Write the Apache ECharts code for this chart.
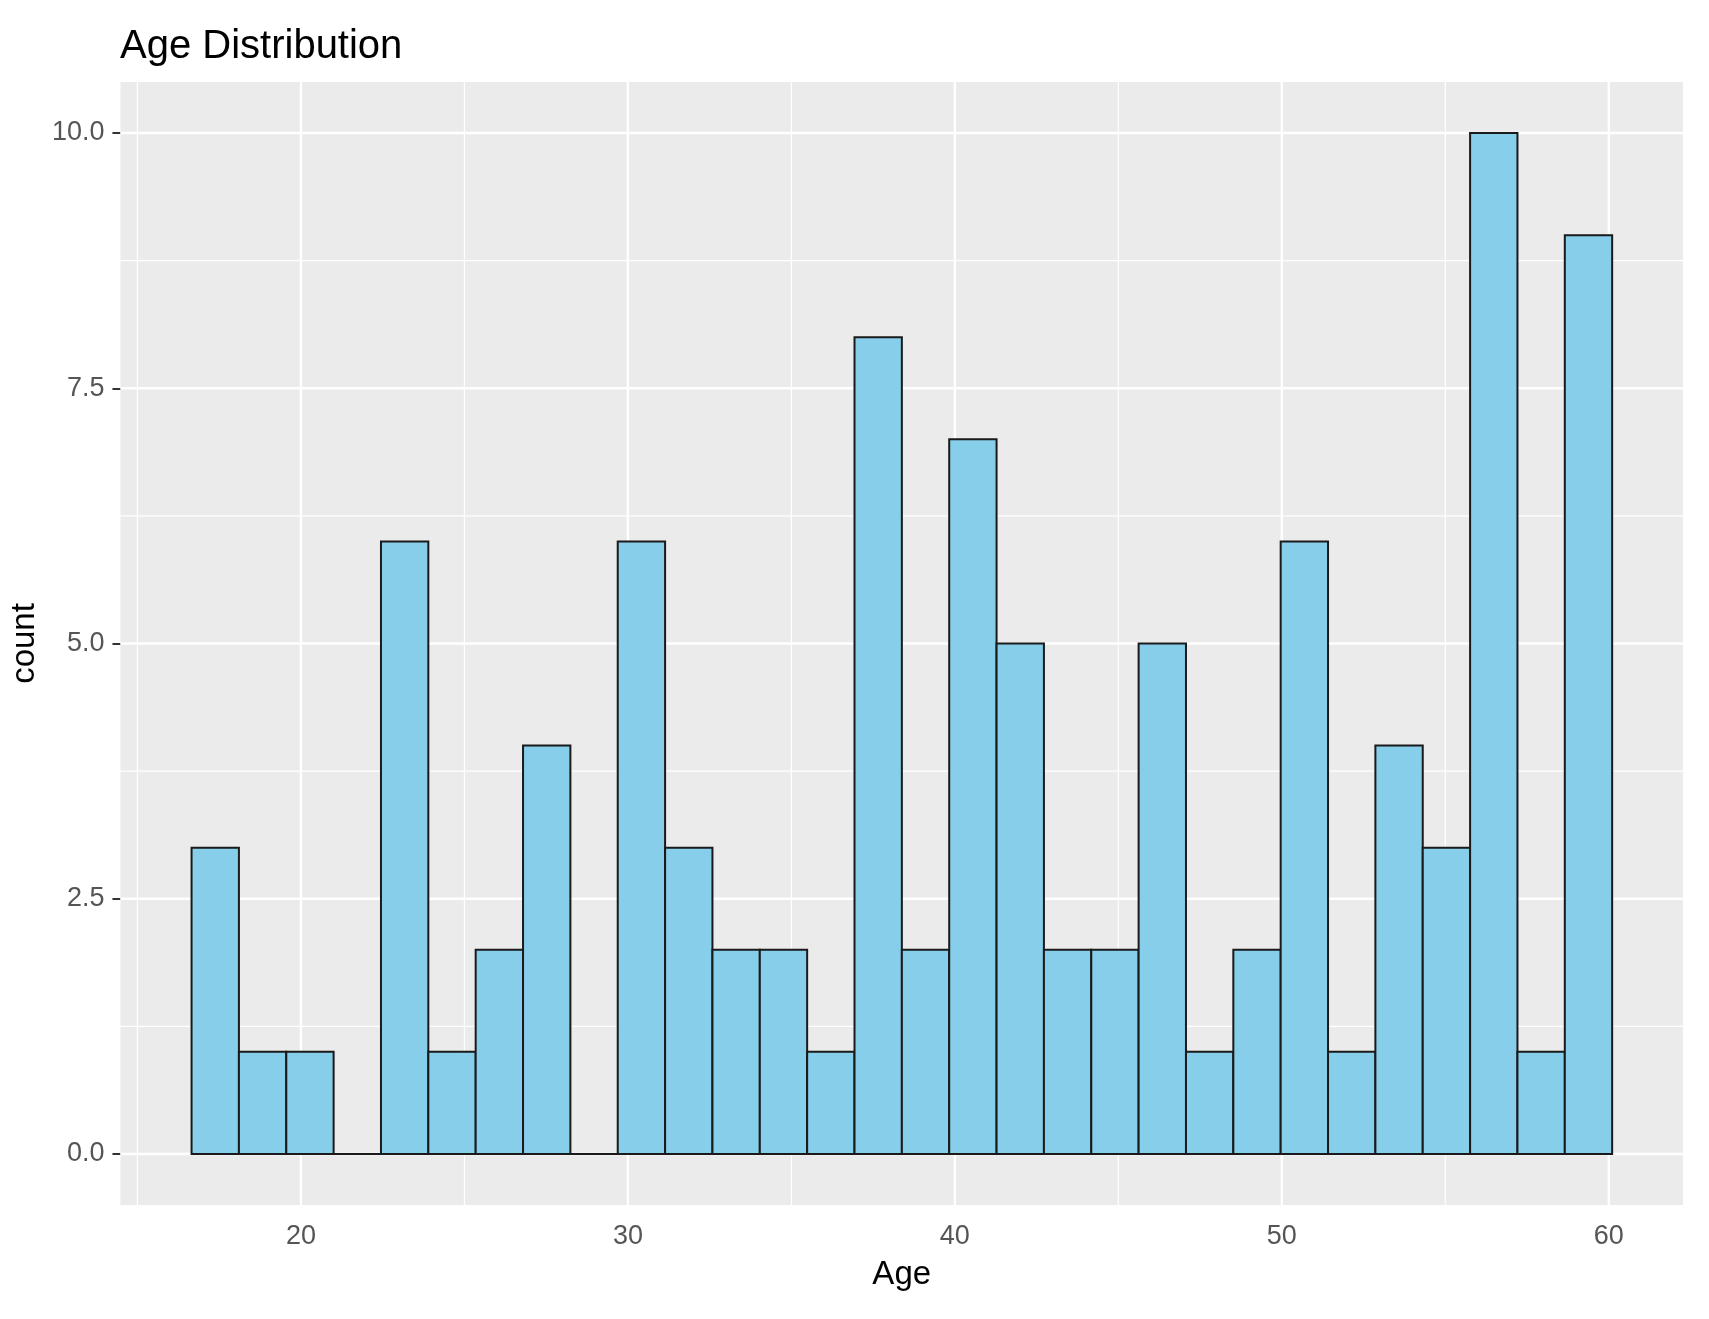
<!DOCTYPE html>
<html>
<head>
<meta charset="utf-8">
<script src="https://cdn.jsdelivr.net/npm/echarts@6/dist/echarts.min.js"></script>
<style>
  html, body { margin: 0; padding: 0; background: #ffffff; }
  #chart { width: 1709px; height: 1319px; }
</style>
</head>
<body>
<div id="chart"></div>
<script>
// Histogram of Age: 30 bins (ages 18..60, binwidth 42/29)
const binStart = 16.655;
const binWidth = 42 / 29;
const counts = [3, 1, 1, 0, 6, 1, 2, 4, 0, 6, 3, 2, 2, 1, 8, 2, 7, 5, 2, 2, 5, 1, 2, 6, 1, 4, 3, 10, 1, 9];

// Axis breaks (ggplot style major/minor grid)
const xMajor = [20, 30, 40, 50, 60];
const xMinor = [15, 25, 35, 45, 55];
const yMajor = [0, 2.5, 5, 7.5, 10];
const yMinor = [1.25, 3.75, 6.25, 8.75];

const titleText = 'Age Distribution';
const xName = 'Age';
const yName = 'count';

const bins = counts.map((c, i) => [binStart + i * binWidth, binStart + (i + 1) * binWidth, c]);

const FONT = '"Liberation Sans", Arial, Helvetica, sans-serif';
const chart = echarts.init(document.getElementById('chart'), null, { renderer: 'canvas' });

// grid line records: [orientation (0 = vertical at x, 1 = horizontal at y), value, isMajor]
const gridData = [];
xMinor.forEach(v => gridData.push([0, v, 0]));
yMinor.forEach(v => gridData.push([1, v, 0]));
xMajor.forEach(v => gridData.push([0, v, 1]));
yMajor.forEach(v => gridData.push([1, v, 1]));

chart.setOption({
  animation: false,
  backgroundColor: '#ffffff',
  title: {
    text: titleText,
    left: 115,
    top: 22,
    textStyle: { fontFamily: FONT, fontSize: 40, fontWeight: 'normal', color: '#000000' }
  },
  grid: {
    left: 116, right: 26, top: 82, bottom: 114,
    show: true, backgroundColor: '#EBEBEB', borderWidth: 0
  },
  xAxis: {
    type: 'value',
    min: 14.48, max: 62.27,
    name: xName,
    nameLocation: 'middle',
    nameGap: 53,
    nameTextStyle: { fontFamily: FONT, fontSize: 33, color: '#000000' },
    axisLine: { show: false },
    axisTick: { show: true, customValues: xMajor, length: 8, lineStyle: { color: '#333333', width: 2 } },
    axisLabel: { customValues: xMajor, margin: 18, fontFamily: FONT, fontSize: 27, color: '#555555' },
    splitLine: { show: false }
  },
  yAxis: {
    type: 'value',
    min: -0.5, max: 10.5,
    name: yName,
    nameLocation: 'middle',
    nameGap: 72,
    nameRotate: 90,
    nameTextStyle: { fontFamily: FONT, fontSize: 33, color: '#000000' },
    axisLine: { show: false },
    axisTick: { show: true, customValues: yMajor, length: 8, lineStyle: { color: '#333333', width: 2 } },
    axisLabel: {
      customValues: yMajor, margin: 16, fontFamily: FONT, fontSize: 27, color: '#555555',
      formatter: v => Number(v).toFixed(1)
    },
    splitLine: { show: false }
  },
  series: [
    {
      type: 'custom',
      z: 1,
      silent: true,
      data: gridData,
      encode: { x: 1, y: 1 },
      renderItem: function (params, api) {
        const cs = params.coordSys;
        const orient = api.value(0);
        const v = api.value(1);
        const w = api.value(2) ? 2.4 : 1.2;
        let shape;
        if (orient === 0) {
          const x = api.coord([v, 0])[0];
          shape = { x1: x, y1: cs.y, x2: x, y2: cs.y + cs.height };
        } else {
          const y = api.coord([cs ? 20 : 0, v])[1];
          shape = { x1: cs.x, y1: y, x2: cs.x + cs.width, y2: y };
        }
        return { type: 'line', shape: shape, style: { stroke: '#ffffff', lineWidth: w } };
      }
    },
    {
      type: 'custom',
      z: 3,
      data: bins,
      encode: { x: [0, 1], y: 2 },
      renderItem: function (params, api) {
        const p0 = api.coord([api.value(0), 0]);
        const p1 = api.coord([api.value(1), api.value(2)]);
        const h = p0[1] - p1[1];
        if (h < 0.5) {
          return {
            type: 'line',
            shape: { x1: p0[0], y1: p0[1], x2: p1[0], y2: p0[1] },
            style: { stroke: '#1a1a1a', lineWidth: 2 }
          };
        }
        return {
          type: 'rect',
          shape: { x: p0[0], y: p1[1], width: p1[0] - p0[0], height: h },
          style: { fill: '#87CEEB', stroke: '#1a1a1a', lineWidth: 2 }
        };
      }
    }
  ]
});
</script>
</body>
</html>
